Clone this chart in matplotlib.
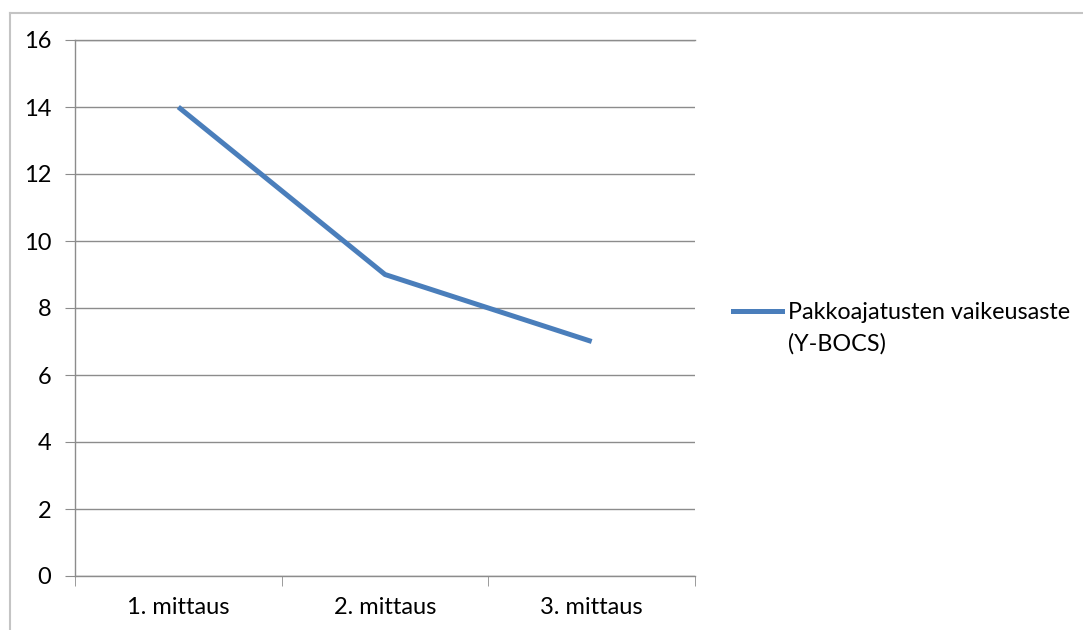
import numpy as np
import matplotlib.pyplot as plt
from matplotlib.lines import Line2D

plt.rcParams['font.family'] = ['Lato', 'DejaVu Sans']

# Y-BOCS mittaukset
labels = ['1. mittaus', '2. mittaus', '3. mittaus']
scores = [14, 9, 7]
series_name = 'Pakkoajatusten vaikeusaste\n(Y-BOCS)'

grid_col = '#8c8c8c'
line_col = '#4a7ebb'
W, H = 1083, 630

fig = plt.figure(figsize=(W / 100, H / 100), dpi=100)
ax = fig.add_axes([75 / W, 1 - 576 / H, 620 / W, 536 / H])

x = np.arange(len(labels))
ax.plot(x, scores, color=line_col, lw=3.6, solid_capstyle='butt')

ax.set_xlim(-0.5, len(labels) - 0.5)
ax.set_ylim(0, 16)
ax.set_yticks(np.arange(0, 17, 2))
ax.set_xticks(x)
ax.set_xticklabels(labels)
ax.set_xticks(np.arange(-0.5, len(labels), 1.0), minor=True)

ax.grid(axis='y', color=grid_col, lw=1)
ax.set_axisbelow(True)
for s in ['top', 'right']:
    ax.spines[s].set_visible(False)
for s in ['left', 'bottom']:
    ax.spines[s].set_color(grid_col)
    ax.spines[s].set_linewidth(1)

ax.tick_params(axis='y', length=7, color=grid_col, labelsize=17, pad=10)
ax.tick_params(axis='x', which='major', length=0, labelsize=17, pad=15)
ax.tick_params(axis='x', which='minor', length=7, color=grid_col)
ax.axhline(16, color=grid_col, lw=1, clip_on=False)

# legend drawn by hand: swatch next to the first text line
fig.add_artist(Line2D([733 / W, 782 / W], [1 - 311 / H] * 2, color=line_col, lw=3.6))
fig.text(788 / W, 1 - 302 / H, series_name, fontsize=16.8, va='top',
         ha='left', linespacing=1.6)

# chart frame
fig.add_artist(Line2D([10 / W, 1], [1 - 13 / H] * 2, color='#c4c4c4', lw=1.5))
fig.add_artist(Line2D([10 / W] * 2, [0, 1 - 13 / H], color='#c4c4c4', lw=1.5))

fig.savefig('out.png', dpi=100)
